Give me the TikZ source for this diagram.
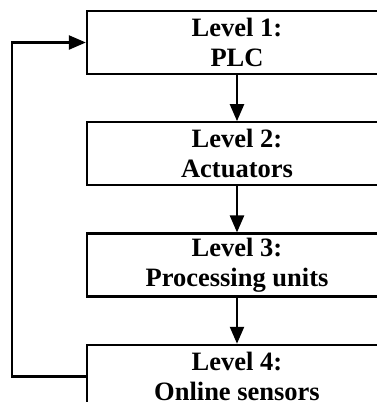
\documentclass[tikz,border=0pt]{standalone}
\usepackage{fontspec}
\setmainfont{Liberation Serif}
\usepackage{tikz}
\usetikzlibrary{positioning,arrows.meta}

\begin{document}
\begin{tikzpicture}[x=1pt, y=-1pt, node distance = 46pt]
            \tikzstyle{level} = [draw=black, line width=2.3pt, minimum width=300pt, minimum height=63pt, align=center, font=\fontsize{26.5}{30}\selectfont\bfseries, inner sep=0pt];
            \tikzstyle{link} = [line width=2.3pt, -{Triangle[length=17pt, width=14pt]}];
            \useasboundingbox (0,0) rectangle (377,402);
            \node [level] (L1) at (237,42.5) {Level 1:\\PLC};

            \node [level, below = of L1] (L2) {Level 2:\\Actuators};
            \node [level, below = of L2] (L3) {Level 3:\\Processing units};
            \node [level, below = of L3] (L4) {Level 4:\\Online sensors};

            \foreach \i/\j in {1/2, 2/3, 3/4}
                \draw [link] (L\i) to (L\j);
            \draw [link] (L4.west) -- ++(-74,0) |- (L1.west);

        \end{tikzpicture}
\end{document}
